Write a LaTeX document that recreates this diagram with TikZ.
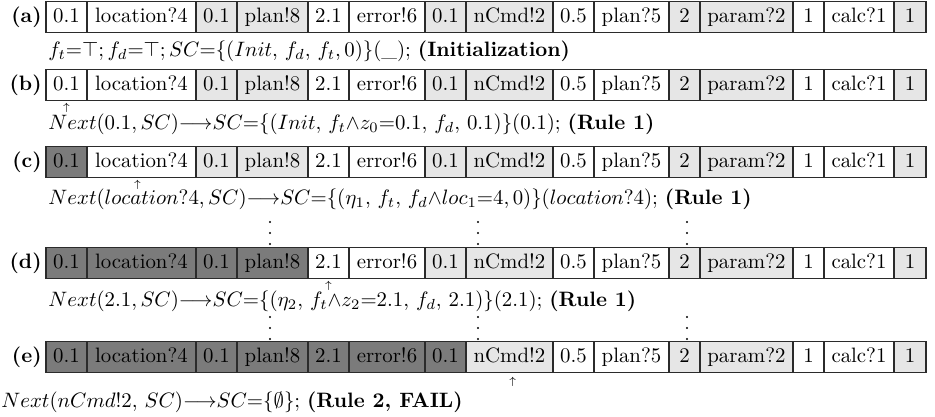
\documentclass[tikz,border=0pt]{standalone}
\usepackage{tikz}
\usetikzlibrary{positioning}
\definecolor{CellLight}{HTML}{E6E6E6}
\definecolor{CellDark}{HTML}{7B7B7B}
\definecolor{CellLine}{HTML}{2B2B2B}

\newcommand\tapeRow[3]{%
  \foreach \txt/\lft/\rgt/\tone [count=\i] in {0.1/46/87/white, location?4/87/196/white,
      0.1/196/237/CellLight, plan!8/237/308/CellLight, 2.1/308/349/white, error!6/349/425/white,
      0.1/425/466/CellLight, nCmd!2/466/553/CellLight, 0.5/553/594/white, plan?5/594/669/white,
      2/669/700/CellLight, param?2/700/793/CellLight, 1/793/824/white, calc?1/824/894/white,
      1/894/926/CellLight}{%
    \ifnum\i>#3\relax\edef\cellfill{\tone}\else\edef\cellfill{CellDark}\fi
    \node[cell,fill=\cellfill,minimum width={(\rgt-\lft)*0.48pt}] (#1\i) at ({(\lft+\rgt)/2},#2) {\txt};
  }%
  \node[rowlabel] (#1lab) at (42,#2) {(#1)};
}

\begin{document}
\begin{tikzpicture}[x=0.48pt,y=-0.48pt,
    cell/.style={draw=CellLine,line width=0.6pt,inner sep=0pt,minimum height=14.6pt,
                 text height=1.55ex,text depth=.3ex},
    rowlabel/.style={anchor=east,inner sep=0pt,font=\bfseries},
    formula/.style={anchor=west,inner sep=0pt},
    pointer/.style={inner sep=0pt,font=\tiny}]
\useasboundingbox (0,0) rectangle (935,417);

\tapeRow{a}{17}{0}
\node[formula] (fa) at (48,51)
  {$f_t{=}\top; f_d{=}\top; SC{=}\{(Init,\, f_d,\, f_t, 0)\}(\_)$; \textbf{(Initialization)}};

\tapeRow{b}{85}{0}
\node[pointer,below=0.8pt of b1] (pb) {$\uparrow$};
\node[formula] (fb) at (48,124)
  {$Next(0.1, SC){\longrightarrow}SC{=}\{(Init,\, f_t{\wedge}z_0{=}0.1,\, f_d,\, 0.1)\}(0.1)$; \textbf{(Rule 1)}};

\tapeRow{c}{162}{1}
\node[pointer,below=0.8pt of c2,xshift=-2pt] (pc) {$\uparrow$};
\node[formula] (fc) at (48,199)
  {$Next(location?4, SC){\longrightarrow}SC{=}\{(\eta_1,\, f_t,\, f_d{\wedge}loc_1{=}4, 0)\}(location?4)$; \textbf{(Rule 1)}};

\foreach \dx in {270,478,687}
  \foreach \dy in {222,233,244}
    \fill (\dx,\dy) circle (0.55pt);

\tapeRow{d}{263}{4}
\node[pointer,below=0.8pt of d5] (pd) {$\uparrow$};
\node[formula] (fd) at (48,301)
  {$Next(2.1, SC){\longrightarrow}SC{=}\{(\eta_2,\, f_t{\wedge}z_2{=}2.1,\, f_d,\, 2.1)\}(2.1)$; \textbf{(Rule 1)}};

\foreach \dx in {270,478,687}
  \foreach \dy in {317,328,339}
    \fill (\dx,\dy) circle (0.55pt);

\tapeRow{e}{357}{7}
\node[pointer,below=2pt of e8,xshift=1.5pt] (pe) {$\uparrow$};
\node[formula] (fe) at (1,402)
  {$Next(nCmd!2,\, SC){\longrightarrow}SC{=}\{\emptyset\}$; \textbf{(Rule 2, FAIL)}};
\end{tikzpicture}
\end{document}
